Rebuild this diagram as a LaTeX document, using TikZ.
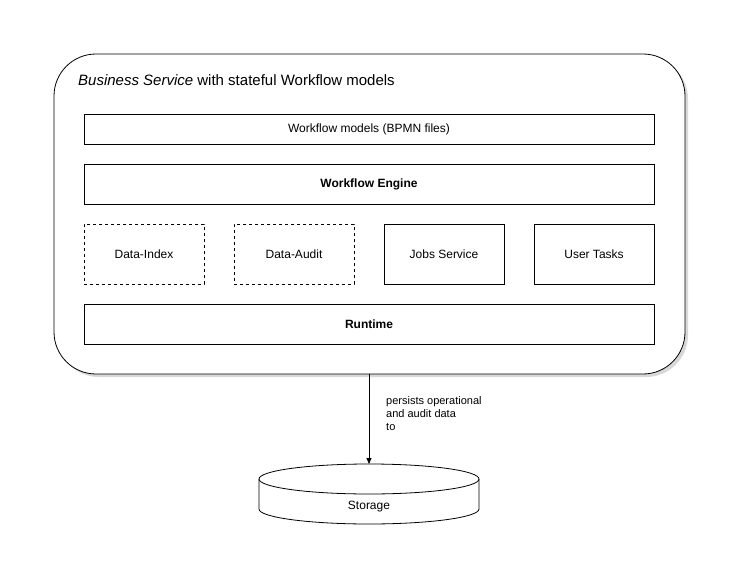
\documentclass[tikz,border=0pt]{standalone}
\usepackage{fontspec}
\setmainfont{Liberation Sans}
\usetikzlibrary{shadows,arrows.meta}
\begin{document}
\begin{tikzpicture}[x=1pt,y=-1pt,
  box/.style={draw,line width=0.8pt,fill=white,font=\fontsize{12}{14}\selectfont,inner sep=0pt},
  dbox/.style={box,dash pattern=on 3pt off 3pt},
  lbl/.style={font=\fontsize{11}{13}\selectfont,align=left,inner sep=0pt}]
\useasboundingbox (0,0) rectangle (741,575);
\fill[white] (0,0) rectangle (741,575);
% container
\fill[black!30,opacity=0.5,rounded corners=42pt] (57,57) rectangle (688,377);
\path[draw,fill=white,line width=0.8pt,rounded corners=42pt] (54,54) rectangle (685,374);
\node[coordinate] (cont) at (369,374) {};
\node[anchor=base west,inner sep=0pt,font=\fontsize{15}{18}\selectfont] (title) at (78,86) {\textit{Business Service} with stateful Workflow models};
% rows
\node[box,minimum width=570pt,minimum height=30pt] (models) at (369,129) {Workflow models (BPMN files)};
\node[box,minimum width=570pt,minimum height=40pt] (engine) at (369,184) {\textbf{Workflow Engine}};
\node[dbox,minimum width=120pt,minimum height=60pt] (dindex) at (144,254) {Data-Index};
\node[dbox,minimum width=120pt,minimum height=60pt] (daudit) at (294,254) {Data-Audit};
\node[box,minimum width=120pt,minimum height=60pt] (jobs) at (444,254) {Jobs Service};
\node[box,minimum width=120pt,minimum height=60pt] (tasks) at (594,254) {User Tasks};
\node[box,minimum width=570pt,minimum height=40pt] (runtime) at (369,324) {\textbf{Runtime}};
% storage cylinder
\path[draw,fill=white,line width=0.8pt] (259,479) -- (259,509) arc[start angle=180,end angle=0,x radius=110,y radius=15] -- (479,479);
\path[draw,fill=white,line width=0.8pt] (369,479) ellipse[x radius=110,y radius=15];
\node[coordinate] (stor) at (369,464) {};
\node[inner sep=0pt,font=\fontsize{12}{14}\selectfont] (storage) at (369,507) {Storage};
% arrow
\draw[line width=0.8pt,-{Triangle[length=6pt,width=5pt]}] (cont) -- (stor);
\node[lbl,anchor=north west] (plabel) at (386,396) {persists operational\\and audit data\\to};
\end{tikzpicture}
\end{document}
